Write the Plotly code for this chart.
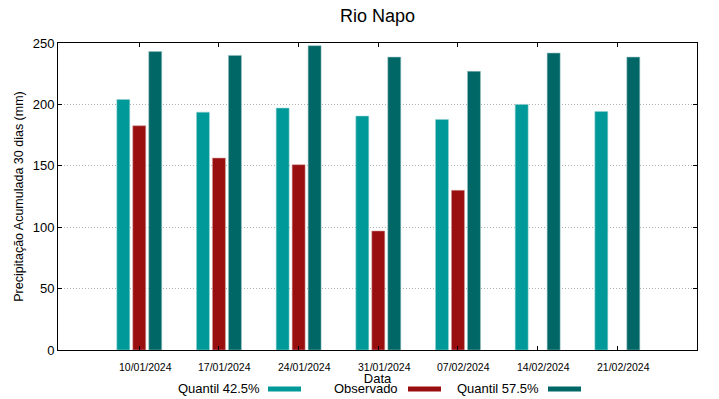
import plotly.graph_objects as go

dates = ["10/01/2024", "17/01/2024", "24/01/2024", "31/01/2024",
         "07/02/2024", "14/02/2024", "21/02/2024"]
quantil_425 = [204, 193.7, 197, 190.5, 187.8, 200, 194.3]
observado = [182.6, 156.3, 150.9, 96.9, 130, None, None]
quantil_575 = [243, 239.9, 247.8, 238.5, 226.9, 241.8, 238.5]

c1 = "#009999"
c2 = "#990f0f"
c3 = "#006666"

fig = go.Figure()
fig.add_trace(go.Bar(x=dates, y=quantil_425, name="Quantil 42.5%", marker_color=c1,
                     marker_line=dict(color="rgba(150,210,210,0.8)", width=0.7)))
fig.add_trace(go.Bar(x=dates, y=observado, name="Observado", marker_color=c2,
                     marker_line=dict(color="rgba(210,150,150,0.8)", width=0.7)))
fig.add_trace(go.Bar(x=dates, y=quantil_575, name="Quantil 57.5%", marker_color=c3,
                     marker_line=dict(color="rgba(150,190,190,0.8)", width=0.7)))

font = "Liberation Sans, Arial, sans-serif"

fig.update_layout(
    width=719, height=399,
    margin=dict(l=58, r=22, t=43, b=49, autoexpand=False),
    paper_bgcolor="white", plot_bgcolor="white",
    barmode="group", bargap=0.398, bargroupgap=0.19,
    showlegend=False,
    font=dict(family=font, color="black", size=12),
    title=dict(text="Rio Napo", x=0.525, xanchor="center", y=0.96, yanchor="middle",
               font=dict(size=18, family=font, color="black")),
)
fig.update_xaxes(
    type="category", range=[-1.02, 7.0], automargin=False,
    showline=True, linecolor="black", linewidth=1, mirror="ticks",
    ticks="inside", ticklen=4, tickcolor="black",
    showgrid=False, showticklabels=False,
    title=dict(text="Data", font=dict(size=13), standoff=23),
)
fig.update_yaxes(
    range=[0, 250], tickvals=[0, 50, 100, 150, 200, 250], automargin=False,
    showline=True, linecolor="black", linewidth=1, mirror="ticks",
    ticks="inside", ticklen=4, tickcolor="black",
    showgrid=True, gridcolor="#b0b0b0", griddash="1px,2px", gridwidth=1,
    zeroline=False, tickfont=dict(size=13),
    title=dict(text="Precipitação Acumulada 30 dias (mm)", font=dict(size=12.5), standoff=6),
)

# date tick labels (slightly right of the tick, as in the original)
for d in dates:
    fig.add_annotation(text=d, x=d, xref="x", y=0, yref="paper", yshift=-17, xshift=6,
                       xanchor="center", yanchor="middle", showarrow=False,
                       font=dict(size=10.5, family=font, color="black"))

# gnuplot-style legend: text followed by colour sample
legend_items = [("Quantil 42.5%", c1, 262, 268), ("Observado", c2, 400, 408), ("Quantil 57.5%", c3, 541, 548)]
for label, col, xt, xs in legend_items:
    fig.add_annotation(text=label, xref="paper", yref="paper",
                       x=(xt - 58) / 639, y=(350 - 388) / 307, xanchor="right", yanchor="middle",
                       showarrow=False, font=dict(size=13, family=font, color="black"))
    fig.add_shape(type="line", xref="paper", yref="paper",
                  x0=(xs - 58) / 639, x1=(xs + 33 - 58) / 639,
                  y0=(350 - 389) / 307, y1=(350 - 389) / 307,
                  line=dict(color=col, width=5))

fig.write_html("out.html", config={"displayModeBar": False},
               post_script="document.body.style.margin='0px';")
